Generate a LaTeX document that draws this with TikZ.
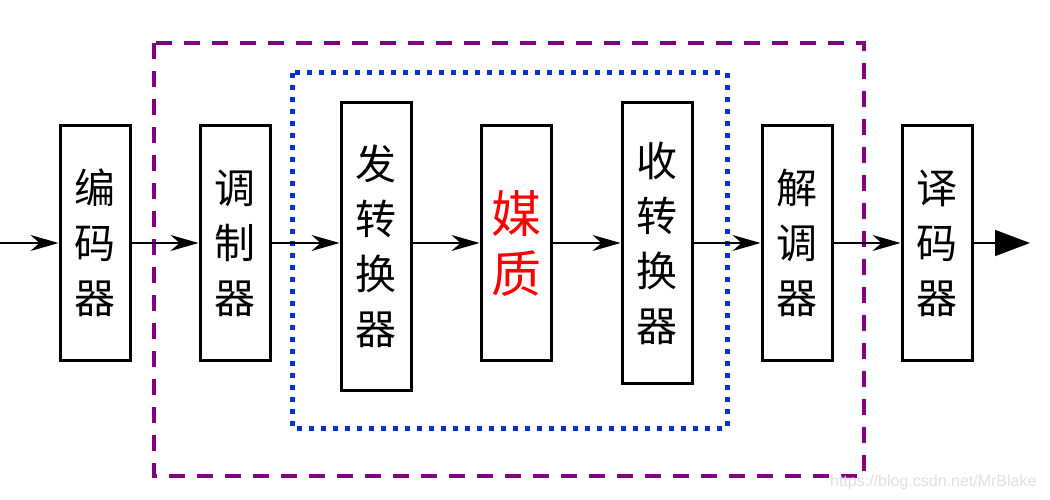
\documentclass[tikz,border=0pt]{standalone}
\usepackage{fontspec}
\newfontfamily\cjk{Noto Sans CJK SC}
\setsansfont{Liberation Sans}
\usetikzlibrary{arrows.meta}
\definecolor{dpurple}{RGB}{128,0,128}
\definecolor{dblue}{RGB}{0,51,204}
\begin{document}
\begin{tikzpicture}[x=1pt,y=-1pt,
  blk/.style={draw=black,line width=3pt,fill=white,minimum width=70pt,inner sep=0pt,
    font=\cjk\fontsize{41}{55}\selectfont,align=center},
  conn/.style={line width=1.5pt,-{Stealth[length=28pt,width=16pt,inset=9pt]}},
  outerbox/.style={draw=dpurple,line width=4pt,dash pattern=on 16pt off 12pt},
  innerbox/.style={draw=dblue,line width=5pt,dash pattern=on 5pt off 7pt}]
\useasboundingbox (0,0) rectangle (1050,500);
\fill[white] (0,0) rectangle (1050,500);
\draw[outerbox] (154,43) rectangle (864,476);
\draw[innerbox] (292,73) rectangle (727,428);
\coordinate (start) at (0,243);
\coordinate (finish) at (1030,243);
\node[blk,minimum height=234pt] (enc) at (95,243) {编\\码\\器};
\node[blk,minimum height=234pt] (mod) at (235,243) {调\\制\\器};
\node[blk,minimum height=287pt] (tx) at (376,246.5) {发\\转\\换\\器};
\node[blk,minimum height=234pt,text=red,font=\cjk\fontsize{50}{60}\selectfont] (med) at (516,243) {媒\\质};
\node[blk,minimum height=280pt] (rx) at (657,243) {收\\转\\换\\器};
\node[blk,minimum height=234pt] (dem) at (797,243) {解\\调\\器};
\node[blk,minimum height=234pt] (dec) at (937,243) {译\\码\\器};
\draw[conn] (start) -- (enc.west);
\draw[conn] (enc.east) -- (mod.west);
\draw[conn] (mod.east) -- (tx.west |- mod.east);
\draw[conn] (tx.west -| tx.east) ++(0,-3.5) -- (med.west);
\draw[conn] (med.east) -- (rx.west);
\draw[conn] (rx.east) -- (dem.west);
\draw[conn] (dem.east) -- (dec.west);
\draw[line width=1.5pt,-{Triangle[length=35pt,width=26pt]}] (dec.east) -- (finish);
\node[font=\sffamily\fontsize{16}{16}\selectfont,text=black!12,anchor=east] (wm) at (1040,482) {https://blog.csdn.net/MrBlake};
\end{tikzpicture}
\end{document}
